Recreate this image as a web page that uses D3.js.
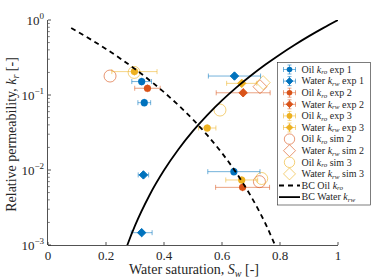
<!DOCTYPE html>
<html><head><meta charset="utf-8">
<script src="https://cdn.jsdelivr.net/npm/d3@7/dist/d3.min.js"></script>
<style>body{margin:0;background:#fff}svg{display:block}text{font-family:"Liberation Serif",serif;fill:#262626}</style>
</head><body><svg id="c" width="374" height="280"></svg>
<script>
// ---- data ----
const xTicks = [0, 0.2, 0.4, 0.6, 0.8, 1];
const xTickLabels = ["0", "0.2", "0.4", "0.6", "0.8", "1"];
const yTickExps = [0, -1, -2, -3];

const oilExp1Sw = [0.323, 0.332, 0.641], oilExp1Kr = [0.151, 0.079, 0.0095], oilExp1Err = [0.034, 0.022, 0.09];
const watExp1Sw = [0.329, 0.323, 0.643], watExp1Kr = [0.0086, 0.00146, 0.179], watExp1Err = [0.018, 0.036, 0.09];
const oilExp2Sw = [0.343, 0.671], oilExp2Kr = [0.123, 0.00587], oilExp2Err = [0.044, 0.093];
const watExp2Sw = [0.673], watExp2Kr = [0.107], watExp2Err = [0.093];
const oilExp3Sw = [0.298, 0.549, 0.668], oilExp3Kr = [0.205, 0.0363, 0.00736], oilExp3Err = [0.078, 0.03, 0.055];
const watExp3Sw = [0.668], watExp3Kr = [0.143], watExp3Err = [0.052];
const oilSim2Sw = [0.214, 0.729], oilSim2Kr = [0.179, 0.00699];
const watSim2Sw = [0.731], watSim2Kr = [0.129];
const oilSim3Sw = [0.297, 0.593, 0.737], oilSim3Kr = [0.20, 0.063, 0.0077];
const watSim3Sw = [0.742], watSim3Kr = [0.146];

const bcOilSw = [0.08, 0.1, 0.15, 0.2, 0.25, 0.3, 0.35, 0.4, 0.45, 0.5, 0.55, 0.6, 0.65, 0.7, 0.75, 0.8];
const bcOilKr = [0.783, 0.707, 0.543, 0.411, 0.305, 0.222, 0.1576, 0.1089, 0.0729, 0.047, 0.0289, 0.0168, 0.00907, 0.00445, 0.00192, 0.000686];
const bcWatSw = [0.25, 0.275, 0.3, 0.35, 0.4, 0.45, 0.5, 0.55, 0.6, 0.65, 0.7, 0.75, 0.8, 0.85, 0.9, 0.95, 1.0];
const bcWatKr = [0.00054, 0.00103, 0.00181, 0.00461, 0.0099, 0.0189, 0.0332, 0.0544, 0.0847, 0.1264, 0.182, 0.255, 0.348, 0.465, 0.61, 0.786, 1.0];

const C_BLUE = "#0072BD", C_RED = "#D95319", C_YEL = "#EDB120";

// ---- scales ----
const svg = d3.select("#c");
const L = 48, R = 338, T = 20, B = 245;
const x = d3.scaleLinear().domain([0, 1]).range([L, R]);
const y = d3.scaleLog().domain([1e-3, 1]).range([B, T]);
const ink = "#262626";

svg.append("defs").append("clipPath").attr("id", "clip")
  .append("rect").attr("x", L).attr("y", T).attr("width", R - L).attr("height", B - T);

// axes
const ax = svg.append("g");
ax.append("line").attr("x1", L).attr("x2", R).attr("y1", B + 0.5).attr("y2", B + 0.5).attr("stroke", ink).attr("stroke-width", 0.8);
ax.append("line").attr("x1", L - 0.5).attr("x2", L - 0.5).attr("y1", T).attr("y2", B).attr("stroke", ink).attr("stroke-width", 0.8);
xTicks.forEach((t, i) => {
  ax.append("line").attr("x1", x(t)).attr("x2", x(t)).attr("y1", B).attr("y2", B - 3).attr("stroke", ink).attr("stroke-width", 0.8);
  ax.append("text").attr("x", x(t)).attr("y", B + 15).attr("text-anchor", "middle").attr("font-size", 13).text(xTickLabels[i]);
});
yTickExps.forEach(e => {
  const v = Math.pow(10, e);
  ax.append("line").attr("x1", L).attr("x2", L + 3).attr("y1", y(v)).attr("y2", y(v)).attr("stroke", ink).attr("stroke-width", 0.8);
  const t = ax.append("text").attr("x", L - 4).attr("y", y(v) + 4.5).attr("text-anchor", "end").attr("font-size", 13);
  t.append("tspan").text("10");
  t.append("tspan").attr("dy", -5.5).attr("font-size", 9).text(e === 0 ? "0" : "\u2212" + (-e));
  if (e > -3) for (let m = 2; m <= 9; m++) {
    const mv = v / 10 * m;
    ax.append("line").attr("x1", L).attr("x2", L + 1.8).attr("y1", y(mv)).attr("y2", y(mv)).attr("stroke", ink).attr("stroke-width", 0.6);
  }
});
// axis titles
const xt = svg.append("text").attr("x", 194).attr("y", 274).attr("text-anchor", "middle").attr("font-size", 14);
xt.append("tspan").text("Water saturation, ");
xt.append("tspan").attr("font-style", "italic").text("S");
xt.append("tspan").attr("font-style", "italic").attr("font-size", 10).attr("dy", 3).text("w");
xt.append("tspan").attr("dy", -3).text(" [-]");
const yt = svg.append("text").attr("transform", `translate(16,${(T + B) / 2 + 2}) rotate(-90)`).attr("text-anchor", "middle").attr("font-size", 14);
yt.append("tspan").text("Relative permeability, ");
yt.append("tspan").attr("font-style", "italic").text("k");
yt.append("tspan").attr("font-style", "italic").attr("font-size", 10).attr("dy", 3).text("r");
yt.append("tspan").attr("dy", -3).text(" [-]");

// ---- marks ----
const plot = svg.append("g").attr("clip-path", "url(#clip)");
const diamond = (g, cx, cy, s, fill, stroke, op) =>
  g.append("path").attr("d", `M${cx},${cy - s}L${cx + s},${cy}L${cx},${cy + s}L${cx - s},${cy}Z`)
    .attr("fill", fill).attr("stroke", stroke).attr("stroke-opacity", op).attr("stroke-width", 1);

function errSeries(sw, kr, err, color, shape) {
  sw.forEach((s, i) => {
    const cx = x(s), cy = y(kr[i]), x0 = x(s - err[i]), x1 = x(s + err[i]);
    const g = plot.append("g");
    g.append("line").attr("x1", x0).attr("x2", x1).attr("y1", cy).attr("y2", cy).attr("stroke", color).attr("stroke-opacity", 0.55).attr("stroke-width", 1);
    [x0, x1].forEach(xx => g.append("line").attr("x1", xx).attr("x2", xx).attr("y1", cy - 2.5).attr("y2", cy + 2.5).attr("stroke", color).attr("stroke-opacity", 0.55).attr("stroke-width", 1));
    g.append("line").attr("x1", cx).attr("x2", cx).attr("y1", cy - 4).attr("y2", cy + 4).attr("stroke", color).attr("stroke-opacity", 0.55).attr("stroke-width", 1);
    if (shape === "c") g.append("circle").attr("cx", cx).attr("cy", cy).attr("r", 3.6).attr("fill", color);
    else diamond(g, cx, cy, 4.2, color, color, 1);
  });
}
function simSeries(sw, kr, color, shape) {
  sw.forEach((s, i) => {
    const cx = x(s), cy = y(kr[i]);
    if (shape === "c") plot.append("circle").attr("cx", cx).attr("cy", cy).attr("r", 6).attr("fill", "none").attr("stroke", color).attr("stroke-opacity", 0.6).attr("stroke-width", 1);
    else diamond(plot, cx, cy, 7, "none", color, 0.6);
  });
}
simSeries(oilSim2Sw, oilSim2Kr, C_RED, "c");
simSeries(watSim2Sw, watSim2Kr, C_RED, "d");
simSeries(oilSim3Sw, oilSim3Kr, C_YEL, "c");
simSeries(watSim3Sw, watSim3Kr, C_YEL, "d");
errSeries(oilExp1Sw, oilExp1Kr, oilExp1Err, C_BLUE, "c");
errSeries(watExp1Sw, watExp1Kr, watExp1Err, C_BLUE, "d");
errSeries(oilExp2Sw, oilExp2Kr, oilExp2Err, C_RED, "c");
errSeries(watExp2Sw, watExp2Kr, watExp2Err, C_RED, "d");
errSeries(oilExp3Sw, oilExp3Kr, oilExp3Err, C_YEL, "c");
errSeries(watExp3Sw, watExp3Kr, watExp3Err, C_YEL, "d");

const line = d3.line().curve(d3.curveMonotoneX);
plot.append("path").attr("d", line(bcOilSw.map((s, i) => [x(s), y(bcOilKr[i])])))
  .attr("fill", "none").attr("stroke", "#000").attr("stroke-width", 1.8).attr("stroke-dasharray", "5,4");
plot.append("path").attr("d", line(bcWatSw.map((s, i) => [x(s), y(bcWatKr[i])])))
  .attr("fill", "none").attr("stroke", "#000").attr("stroke-width", 1.8);

// ---- legend ----
const lg = svg.append("g");
lg.append("rect").attr("x", 277.5).attr("y", 62.5).attr("width", 93).attr("height", 142.5).attr("fill", "#fff").attr("stroke", ink).attr("stroke-width", 0.6);
const entries = [
  ["Oil", "ro", "exp 1", C_BLUE, "ec"], ["Water", "rw", "exp 1", C_BLUE, "ed"],
  ["Oil", "ro", "exp 2", C_RED, "ec"], ["Water", "rw", "exp 2", C_RED, "ed"],
  ["Oil", "ro", "exp 3", C_YEL, "ec"], ["Water", "rw", "exp 3", C_YEL, "ed"],
  ["Oil", "ro", "sim 2", C_RED, "sc"], ["Water", "rw", "sim 2", C_RED, "sd"],
  ["Oil", "ro", "sim 3", C_YEL, "sc"], ["Water", "rw", "sim 3", C_YEL, "sd"],
  ["BC Oil", "ro", "", "#000", "dash"], ["BC Water", "rw", "", "#000", "line"]
];
entries.forEach((e, i) => {
  const cy = 69.5 + i * 11.6, mx = 289.5;
  const [a, sub, b, col, kind] = e;
  if (kind === "ec" || kind === "ed") {
    lg.append("line").attr("x1", mx - 6).attr("x2", mx + 6).attr("y1", cy).attr("y2", cy).attr("stroke", col).attr("stroke-opacity", 0.55);
    [mx - 6, mx + 6].forEach(xx => lg.append("line").attr("x1", xx).attr("x2", xx).attr("y1", cy - 2.5).attr("y2", cy + 2.5).attr("stroke", col).attr("stroke-opacity", 0.55));
    lg.append("line").attr("x1", mx).attr("x2", mx).attr("y1", cy - 4.5).attr("y2", cy + 4.5).attr("stroke", col).attr("stroke-opacity", 0.55);
    [cy - 4.5, cy + 4.5].forEach(yy => lg.append("line").attr("x1", mx - 2).attr("x2", mx + 2).attr("y1", yy).attr("y2", yy).attr("stroke", col).attr("stroke-opacity", 0.55));
    if (kind === "ec") lg.append("circle").attr("cx", mx).attr("cy", cy).attr("r", 2.8).attr("fill", col);
    else diamond(lg, mx, cy, 3.3, col, col, 1);
  } else if (kind === "sc" || kind === "sd") {
    if (kind === "sc") lg.append("circle").attr("cx", mx).attr("cy", cy).attr("r", 5.2).attr("fill", "none").attr("stroke", col).attr("stroke-opacity", 0.6);
    else diamond(lg, mx, cy, 6, "none", col, 0.6);
  } else {
    lg.append("line").attr("x1", 279).attr("x2", 300).attr("y1", cy).attr("y2", cy).attr("stroke", "#000").attr("stroke-width", 1.8)
      .attr("stroke-dasharray", kind === "dash" ? "5,4" : null);
  }
  const t = lg.append("text").attr("x", 301.5).attr("y", cy + 3.3).attr("font-size", 10);
  t.append("tspan").text(a + " ");
  t.append("tspan").attr("font-style", "italic").text("k");
  t.append("tspan").attr("font-style", "italic").attr("font-size", 7).attr("dy", 1.5).text(sub);
  if (b) t.append("tspan").attr("dy", -1.5).text(" " + b);
});
</script></body></html>
